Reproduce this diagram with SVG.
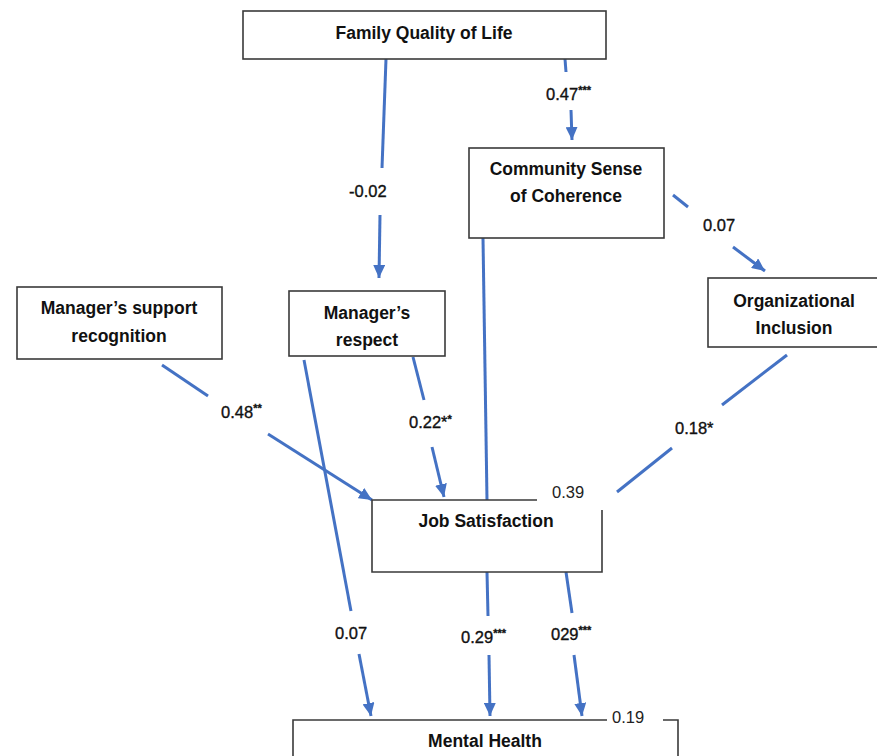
<svg xmlns="http://www.w3.org/2000/svg" width="877" height="756" viewBox="0 0 877 756">
<defs>
<marker id="ah" markerUnits="userSpaceOnUse" markerWidth="14" markerHeight="12" refX="13" refY="6" orient="auto">
<path d="M0,0 L13,6 L0,12 z" fill="#4472C4"/>
</marker>
<style>
.box{fill:#fff;stroke:#3a3a3a;stroke-width:1.6}
.nt{font-family:"Liberation Sans",Arial,sans-serif;font-weight:bold;font-size:17.5px;fill:#111;text-anchor:middle}
.lb{font-family:"Liberation Sans",Arial,sans-serif;font-size:16.5px;fill:#111;stroke:#111;stroke-width:0.35}
.r2{font-family:"Liberation Sans",Arial,sans-serif;font-size:16.5px;fill:#222}
.sup{font-size:11px;font-weight:bold}
.c{stroke:#4472C4;stroke-width:3;fill:none}
.ca{stroke:#4472C4;stroke-width:3;fill:none;marker-end:url(#ah)}
</style>
</defs>
<rect width="877" height="756" fill="#fff"/>

<g id="connectors">
<!-- FQL -> Manager's respect -->
<line class="c" x1="386" y1="59" x2="382" y2="168"/>
<line class="ca" x1="380" y1="215" x2="379" y2="278"/>
<!-- FQL -> CSC -->
<line class="c" x1="565" y1="59" x2="566" y2="72"/>
<line class="ca" x1="571" y1="110" x2="572" y2="140"/>
<!-- CSC -> OI -->
<line class="c" x1="673" y1="195" x2="688" y2="207"/>
<line class="ca" x1="733" y1="247" x2="765" y2="271"/>
<!-- CSC -> JS -->
<line class="c" x1="483" y1="238" x2="487" y2="500"/>
<!-- MSR -> JS -->
<line class="c" x1="162" y1="365" x2="208" y2="396"/>
<line class="ca" x1="268" y1="434" x2="372" y2="500"/>
<!-- MR -> JS -->
<line class="c" x1="413" y1="357" x2="424" y2="400"/>
<line class="ca" x1="432" y1="447" x2="444" y2="497"/>
<!-- MR -> MH -->
<line class="c" x1="304" y1="360" x2="351" y2="611"/>
<line class="ca" x1="359" y1="654" x2="371" y2="716"/>
<!-- JS -> MH 0.29 -->
<line class="c" x1="487" y1="572" x2="488" y2="616"/>
<line class="ca" x1="489" y1="655" x2="490" y2="716"/>
<!-- JS -> MH 029 -->
<line class="c" x1="566" y1="572" x2="572" y2="613"/>
<line class="ca" x1="574" y1="655" x2="582" y2="716"/>
<!-- OI -> JS -->
<line class="c" x1="787" y1="355" x2="722" y2="405"/>
<line class="c" x1="672" y1="448" x2="617" y2="492"/>
</g>

<g id="fql">
<rect class="box" x="243" y="11" width="363" height="48"/>
<text class="nt" x="424" y="39">Family Quality of Life</text>
</g>
<g id="csc">
<rect class="box" x="469" y="148" width="195" height="90"/>
<text class="nt" x="566" y="175">Community Sense</text>
<text class="nt" x="566" y="202">of Coherence</text>
</g>
<g id="oi">
<rect class="box" x="708" y="278" width="172" height="69"/>
<text class="nt" x="794" y="307">Organizational</text>
<text class="nt" x="794" y="334">Inclusion</text>
</g>
<g id="msr">
<rect class="box" x="17" y="287" width="205" height="72"/>
<text class="nt" x="119" y="314">Manager’s support</text>
<text class="nt" x="119" y="342">recognition</text>
</g>
<g id="mr">
<rect class="box" x="289" y="291" width="156" height="65"/>
<text class="nt" x="367" y="319">Manager’s</text>
<text class="nt" x="367" y="346">respect</text>
</g>
<g id="js">
<path class="box" d="M537,500 L372,500 L372,572 L602,572 L602,510"/>
<text class="nt" x="486" y="527">Job Satisfaction</text>
<text class="r2" x="552" y="498">0.39</text>
</g>
<g id="mh">
<path class="box" d="M607,720 L293,720 L293,760 L678,760 L678,720 L663,720"/>
<text class="nt" x="485" y="747">Mental Health</text>
<text class="r2" x="612" y="723">0.19</text>
</g>

<g id="labels">
<text class="lb" x="349" y="197">-0.02</text>
<text class="lb" x="546" y="100">0.47<tspan class="sup" dy="-6">***</tspan></text>
<text class="lb" x="703" y="231">0.07</text>
<text class="lb" x="221" y="418">0.48<tspan class="sup" dy="-6">**</tspan></text>
<text class="lb" x="409" y="428">0.22*<tspan class="sup" dy="-5">*</tspan></text>
<text class="lb" x="675" y="434">0.18*</text>
<text class="lb" x="335" y="639">0.07</text>
<text class="lb" x="461" y="643">0.29<tspan class="sup" dy="-6">***</tspan></text>
<text class="lb" x="551" y="640">029<tspan class="sup" dy="-6">***</tspan></text>
</g>
</svg>
